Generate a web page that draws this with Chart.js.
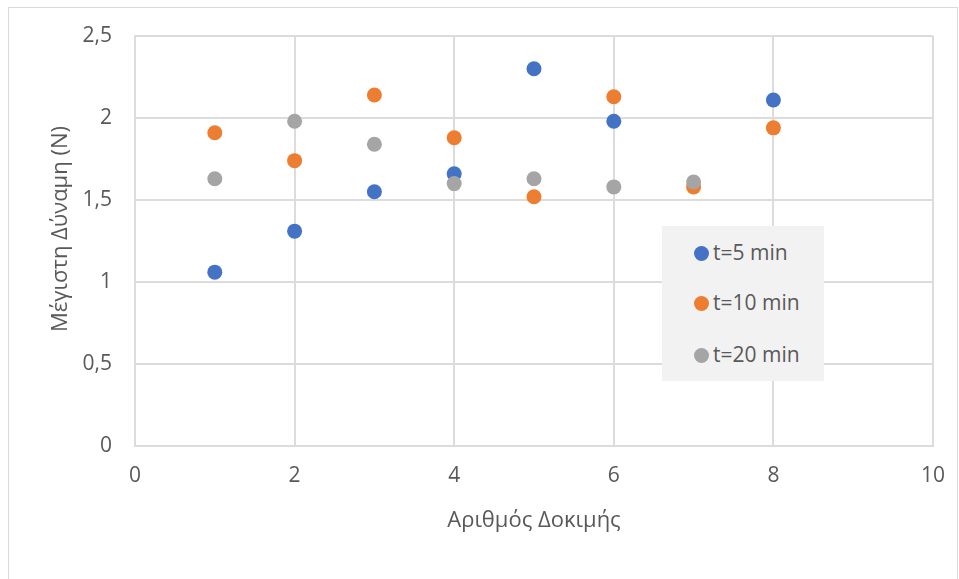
<!DOCTYPE html>
<html>
<head>
<meta charset="utf-8">
<script src="https://cdn.jsdelivr.net/npm/chart.js@4"></script>
<style>
  html, body { margin: 0; padding: 0; background: #fff; overflow: hidden; }
  #wrap { position: relative; width: 959px; height: 579px; }
  #frame {
    position: absolute; left: 8px; top: 7px; width: 950px; height: 620px;
    border: 1px solid #d9d9d9; box-sizing: border-box;
  }
  #legend {
    position: absolute; left: 662px; top: 226px; width: 162px; height: 155px;
    background: #f2f2f2; font-family: "Open Sans", sans-serif; font-size: 21px; color: #595959;
  }
  .item { position: absolute; left: 32px; height: 24px; line-height: 24px; white-space: nowrap; }
  .dot { display: inline-block; width: 15px; height: 15px; border-radius: 50%; margin-right: 4px; vertical-align: -1px; }
</style>
</head>
<body>
<div id="wrap">
  <div id="frame"></div>
  <canvas id="myChart" width="959" height="579"></canvas>
  <div id="legend"></div>
</div>
<script>
// trial number / max force (N) per series
let trials5 = [1, 2, 3, 4, 5, 6, 8];
let force5 = [1.06, 1.31, 1.55, 1.66, 2.30, 1.98, 2.11];

let trials10 = [1, 2, 3, 4, 5, 6, 7, 8];
let force10 = [1.91, 1.74, 2.14, 1.88, 1.52, 2.13, 1.58, 1.94];

let trials20 = [1, 2, 3, 4, 5, 6, 7];
let force20 = [1.63, 1.98, 1.84, 1.60, 1.63, 1.58, 1.61];

let seriesNames = ["t=5 min", "t=10 min", "t=20 min"];
let seriesColors = ["#4472C4", "#ED7D31", "#A5A5A5"];

let xTicks = [0, 2, 4, 6, 8, 10];
let yTicks = [0, 0.5, 1, 1.5, 2, 2.5];

let xTitle = "Αριθμός Δοκιμής";
let yTitle = "Μέγιστη Δύναμη (N)";

let toPoints = (xs, ys) => xs.map((x, i) => ({ x: x, y: ys[i] }));

let gridColor = "#dcdcdc";
let textColor = "#595959";
let font = "'Open Sans', sans-serif";

let makeSet = (i, xs, ys) => ({
  label: seriesNames[i],
  data: toPoints(xs, ys),
  backgroundColor: seriesColors[i],
  borderColor: seriesColors[i],
  pointRadius: 7.5,
  pointHoverRadius: 7.5,
  borderWidth: 0,
  order: 3 - i,
});

// y title is drawn by hand so it sits a little above the axis middle, like Excel does
const yTitlePlugin = {
  id: "yTitle",
  afterDraw(chart) {
    let ctx = chart.ctx;
    ctx.save();
    ctx.translate(61, 229);
    ctx.rotate(-Math.PI / 2);
    ctx.font = "22px " + font;
    ctx.fillStyle = textColor;
    ctx.textAlign = "center";
    ctx.textBaseline = "middle";
    ctx.fillText(yTitle, 0, 0);
    ctx.restore();
  },
};

const config = {
  type: "scatter",
  data: {
    datasets: [
      makeSet(0, trials5, force5),
      makeSet(1, trials10, force10),
      makeSet(2, trials20, force20),
    ],
  },
  options: {
    responsive: false,
    animation: false,
    layout: { padding: { left: 0, top: 36, right: 26, bottom: 0 } },
    plugins: { legend: { display: false }, tooltip: { enabled: false } },
    scales: {
      x: {
        type: "linear",
        min: 0,
        max: 10,
        afterBuildTicks: (s) => { s.ticks = xTicks.map((v) => ({ value: v })); },
        afterFit: (s) => {
          s.height = 579 - 446;
          s.paddingRight = 0;
          s.paddingLeft = 0;
        },
        grid: { color: gridColor, lineWidth: 2, drawTicks: false },
        border: { color: gridColor, width: 2 },
        ticks: { color: textColor, font: { family: font, size: 21 }, padding: 17, maxRotation: 0 },
        title: {
          display: true,
          text: xTitle,
          color: textColor,
          font: { family: font, size: 22 },
          padding: { top: 0, bottom: 45 },
        },
      },
      y: {
        type: "linear",
        min: 0,
        max: 2.5,
        afterBuildTicks: (s) => { s.ticks = yTicks.map((v) => ({ value: v })); },
        afterFit: (s) => {
          s.width = 135;
          s.paddingTop = 0;
          s.paddingBottom = 0;
        },
        grid: { color: gridColor, lineWidth: 2, drawTicks: false },
        border: { color: gridColor, width: 2 },
        ticks: {
          color: textColor,
          font: { family: font, size: 21 },
          padding: 23,
          callback: (v) => String(v).replace(".", ","),
        },
      },
    },
  },
  plugins: [yTitlePlugin],
};

let myChart = new Chart(document.getElementById("myChart"), config);

// legend box inside the plot, like the original
let legend = document.querySelector("#legend");
let rowTops = [14, 64, 116];
myChart.data.datasets.forEach((ds, i) => {
  let row = document.createElement("div");
  row.className = "item";
  row.style.top = rowTops[i] + "px";
  row.innerHTML = `<span class="dot" style="background:${ds.backgroundColor}"></span>${ds.label}`;
  legend.appendChild(row);
});
</script>
</body>
</html>
